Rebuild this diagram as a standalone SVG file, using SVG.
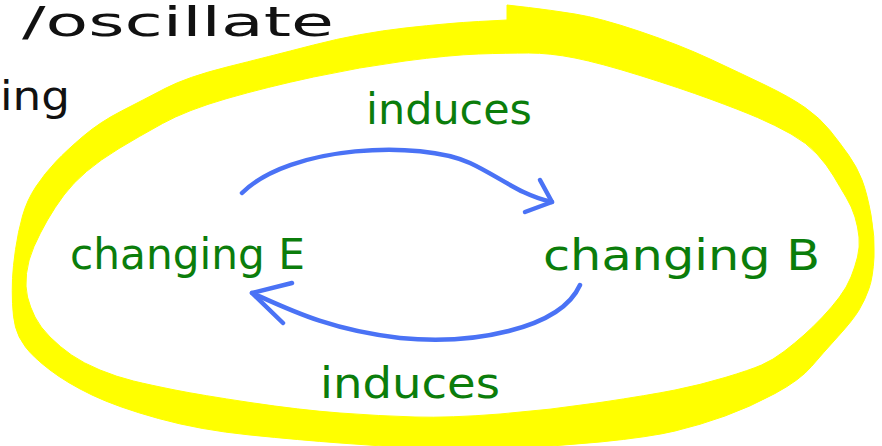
<svg xmlns="http://www.w3.org/2000/svg" width="882" height="446" viewBox="0 0 882 446">
<style>
.hl{fill:#ffff00;fill-rule:evenodd;stroke:#ffff00;stroke-width:1;stroke-linejoin:round}
.arr{fill:none;stroke:#4a72f5;stroke-width:4.5;stroke-linecap:round;stroke-linejoin:round}
.g{fill:#0b7d0b;font-family:"DejaVu Sans",sans-serif;font-size:42px}
.k{fill:#111;font-family:"DejaVu Sans",sans-serif;font-size:40px}
</style>
<rect width="882" height="446" fill="#ffffff"/>
<g id="loop">
<path class="hl" d="M 507 5 L 528.5 7.5 Q 550 10 575 14 Q 600 18 640 31.5 Q 680 45 710 59 Q 740 73 765 85 Q 790 97 805 107.5 Q 820 118 830 130.5 Q 840 143 848.5 155 Q 857 167 862 180 Q 867 193 871 215 Q 875 237 874 257 Q 873 277 869 288.5 Q 865 300 859 310 Q 853 320 838 336.5 Q 823 353 811.5 366.5 Q 800 380 775 393.5 Q 750 407 725 416 Q 700 425 675 431 Q 650 437 600 442 Q 550 447 500 448.5 Q 450 450 415 448 Q 380 446 340 443 Q 300 440 250 435 Q 200 430 158.5 418.5 Q 117 407 92 395 Q 67 383 50 370 Q 33 357 25.5 347 Q 18 337 15.5 327 Q 13 317 12.5 303.5 Q 12 290 12.5 278.5 Q 13 267 15.5 249.5 Q 18 232 22.5 216 Q 27 200 36 186.5 Q 45 173 56 161.5 Q 67 150 83.5 136 Q 100 122 121.5 111 Q 143 100 165 88.5 Q 187 77 227 67 Q 267 57 313.5 45 Q 360 33 405 28 Q 450 23 478.5 21.5 L 507 20 Z M 478.5 54 Q 507 53 528.5 53 Q 550 53 575 58 Q 600 63 640 75.5 Q 680 88 710 99 Q 740 110 757.5 117.5 Q 775 125 791 134 Q 807 143 817 154 Q 827 165 833.5 176 Q 840 187 846 197 Q 852 207 855 217 Q 858 227 859 237 Q 860 247 857.5 257 Q 855 267 851 277 Q 847 287 839.5 297 Q 832 307 822.5 317 Q 813 327 804 335 Q 795 343 784 351.5 Q 773 360 761.5 365 Q 750 370 725 377.5 Q 700 385 675 390 Q 650 395 600 402.5 Q 550 410 500 414 Q 450 418 415 417 Q 380 416 340 413 Q 300 410 250 402.5 Q 200 395 175 390 Q 150 385 133.5 381 Q 117 377 100 370 Q 83 363 71.5 355 Q 60 347 50 337 Q 40 327 35 317 Q 30 307 27.5 297 Q 25 287 26.5 273.5 Q 28 260 34 246.5 Q 40 233 47.5 220 Q 55 207 64 195 Q 73 183 86.5 171.5 Q 100 160 119 148.5 Q 138 137 162.5 123.5 Q 187 110 227 98.5 Q 267 87 313.5 77 Q 360 67 405 61 Q 450 55 478.5 54 Z"/>
</g>
<g id="notes">
<text class="k" x="22" y="36" textLength="312" lengthAdjust="spacingAndGlyphs">/oscillate</text>
<text class="k" x="0" y="110" textLength="70" lengthAdjust="spacingAndGlyphs">ing</text>
</g>
<g id="connectors">
<path class="arr" d="M 242 193 C 290 145, 420 140, 470 163 C 500 177, 520 195, 552 202"/>
<path class="arr" d="M 540 180 L 552 202 L 525 212"/>
<path class="arr" d="M 580 285 C 560 330, 470 345, 400 338 C 330 330, 290 310, 252 293"/>
<path class="arr" d="M 292 283 L 252 293 L 283 323"/>
</g>
<g id="changingE">
<text class="g" x="70" y="269" textLength="235" lengthAdjust="spacingAndGlyphs">changing E</text>
</g>
<g id="changingB">
<text class="g" x="543" y="270" textLength="277" lengthAdjust="spacingAndGlyphs">changing B</text>
</g>
<g id="induces1">
<text class="g" x="366" y="124" textLength="166" lengthAdjust="spacingAndGlyphs">induces</text>
</g>
<g id="induces2">
<text class="g" x="320" y="398" textLength="180" lengthAdjust="spacingAndGlyphs">induces</text>
</g>
</svg>
